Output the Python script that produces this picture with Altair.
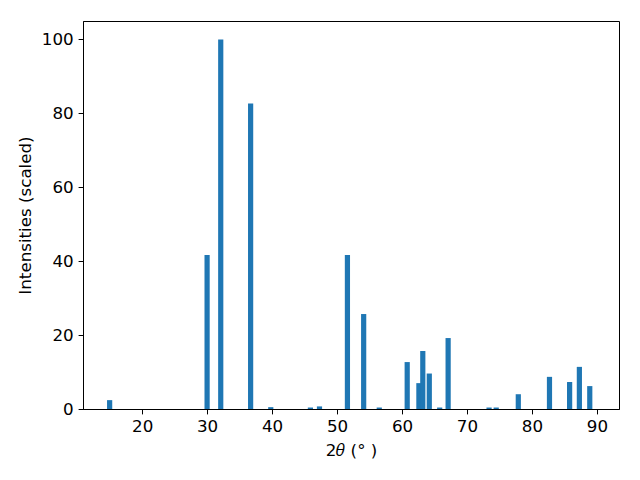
import altair as alt
import pandas as pd

two_theta = [15.0, 30.0, 32.1, 36.7, 39.8, 45.9, 47.3, 51.6, 54.1, 56.5, 60.8,
             62.6, 63.2, 64.2, 65.8, 67.1, 73.4, 74.5, 77.9, 82.7, 85.8, 87.3, 88.9]
intensity = [2.4, 41.7, 100.0, 82.7, 0.5, 0.4, 0.7, 41.7, 25.7, 0.4, 12.7,
             7.0, 15.7, 9.6, 0.4, 19.2, 0.4, 0.4, 4.0, 8.7, 7.3, 11.4, 6.2]
bar_width = 0.8

df = pd.DataFrame({"t": two_theta, "i": intensity})
df["lo"] = df["t"] - bar_width / 2
df["hi"] = df["t"] + bar_width / 2
df["order"] = range(len(df))

font = "DejaVu Sans"

chart = alt.Chart(df).mark_rect(color="#1f77b4").encode(
    x=alt.X("lo:Q", scale=alt.Scale(domain=[10.9, 93.4], nice=False, zero=False),
            axis=alt.Axis(title="2\U0001D703 (° )", values=[20, 30, 40, 50, 60, 70, 80, 90],
                          grid=False, format="d")),
    x2="hi:Q",
    y=alt.Y("i:Q", scale=alt.Scale(domain=[0, 105], nice=False),
            axis=alt.Axis(title="Intensities (scaled)", values=[0, 20, 40, 60, 80, 100],
                          grid=False, format="d")),
    y2=alt.datum(0),
    order="order:Q",
).properties(
    width=536, height=388,
    autosize=alt.AutoSizeParams(type="none"),
    padding={"left": 75, "top": 13, "right": 13, "bottom": 55},
).configure_view(
    stroke="black", strokeWidth=1
).configure_axis(
    domainColor="black", tickColor="black", labelColor="black", titleColor="black",
    labelFont=font, titleFont=font, labelFontSize=16.7, titleFontSize=16.7,
    titleFontWeight="normal", tickSize=4.9, labelPadding=4.9, titlePadding=7,
    domainWidth=1, tickWidth=1,
)

chart.save("out.html", embed_options={"renderer": "svg", "actions": False})
